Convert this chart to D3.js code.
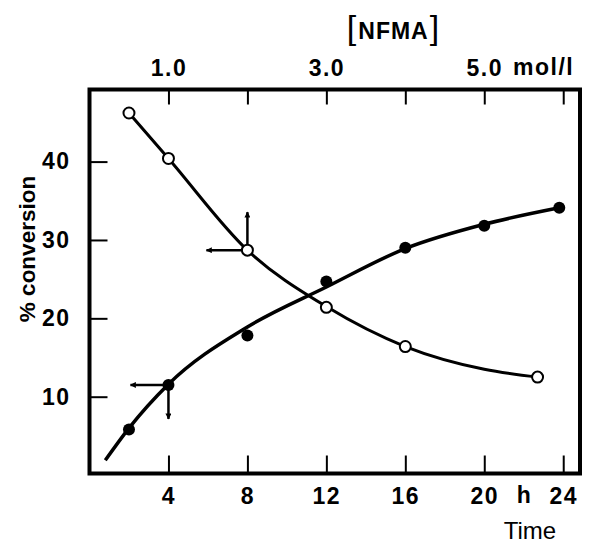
<!DOCTYPE html>
<html>
<head>
<meta charset="utf-8">
<script src="https://cdn.jsdelivr.net/npm/d3@7"></script>
<style>
  body { margin: 0; background: #fff; }
  svg { display: block; }
  .tick text { font-family: "Liberation Sans", Arial, sans-serif; font-weight: bold; font-size: 23px; letter-spacing: 1.5px; fill: #000; }
  .tick line { stroke: #000; stroke-width: 2; }
  .lbl { font-family: "Liberation Sans", Arial, sans-serif; fill: #000; }
</style>
</head>
<body>
<div id="chart"></div>
<script>
// filled circles: % conversion vs time (h)
const filledTime = [2, 4, 8, 12, 16, 20, 23.8];
const filledConv = [5.8, 11.5, 17.8, 24.7, 29.0, 31.8, 34.1];
// open circles: % conversion vs [NFMA] (read on the time scale, 1 mol/l = 4 h)
const openTime = [2, 4, 8, 12, 16, 22.7];
const openConv = [46.2, 40.4, 28.7, 21.4, 16.4, 12.5];

// hand-drawn fitted curves
const filledCurveT = [0.8, 2, 4, 8, 12, 16, 20, 23.8];
const filledCurveV = [1.9, 6.0, 11.6, 18.9, 24.0, 28.9, 32.0, 34.1];
const openCurveT = [2, 4, 8, 12, 16, 20, 22.7];
const openCurveV = [46.2, 40.4, 28.7, 21.5, 16.4, 13.5, 12.5];

const timeTicks = [4, 8, 12, 16, 20, 24];
const concTicks = [1, 2, 3, 4, 5, 6];
const concLabels = [1, 3, 5];
const convTicks = [10, 20, 30, 40];

const W = 591, H = 545;
const svg = d3.select("#chart").append("svg").attr("width", W).attr("height", H);

const x = d3.scaleLinear().domain([0, 24.85]).range([89.5, 580]);
const xc = d3.scaleLinear().domain([0, 24.85 / 4]).range([89.5, 580]);
const y = d3.scaleLinear().domain([0.2, 49.2]).range([473.5, 89.5]);

// axes (ticks point inward)
svg.append("g")
    .attr("transform", `translate(0,${y.range()[0]})`)
    .call(d3.axisBottom(x).tickValues(timeTicks).tickSize(-18).tickPadding(14).tickFormat(d3.format("d")))
    .call(g => g.select(".domain").remove());

svg.append("g")
    .attr("transform", `translate(0,${y.range()[1]})`)
    .call(d3.axisTop(xc).tickValues(concTicks).tickSize(-15).tickPadding(14)
        .tickFormat(d => concLabels.includes(d) ? d3.format(".1f")(d) : ""))
    .call(g => g.select(".domain").remove());

svg.append("g")
    .attr("transform", `translate(${x.range()[0]},0)`)
    .call(d3.axisLeft(y).tickValues(convTicks).tickSize(-18).tickPadding(19).tickFormat(d3.format("d")))
    .call(g => g.select(".domain").remove());

// frame
svg.append("rect")
    .attr("x", x.range()[0]).attr("y", y.range()[1])
    .attr("width", x.range()[1] - x.range()[0])
    .attr("height", y.range()[0] - y.range()[1])
    .attr("fill", "none").attr("stroke", "#000").attr("stroke-width", 4);

// labels
svg.append("text").attr("class", "lbl")
    .attr("x", x(22)).attr("y", 503).attr("text-anchor", "middle")
    .style("font-size", "23px").style("font-weight", "bold").text("h");
svg.append("text").attr("class", "lbl")
    .attr("x", 513).attr("y", 75).style("letter-spacing", "1.5px")
    .style("font-size", "23px").style("font-weight", "bold").text("mol/l");
const nf = svg.append("text").attr("class", "lbl")
    .attr("x", 393).attr("y", 39).attr("text-anchor", "middle");
nf.append("tspan").style("font-size", "34px").text("[");
nf.append("tspan").style("font-size", "23px").style("font-weight", "bold")
    .style("letter-spacing", "1px").attr("dx", 2).text("NFMA");
nf.append("tspan").style("font-size", "34px").attr("dx", 1).text("]");
svg.append("text").attr("class", "lbl")
    .attr("x", 530).attr("y", 539).attr("text-anchor", "middle")
    .style("font-size", "24px").text("Time");
svg.append("text").attr("class", "lbl")
    .attr("transform", "translate(35,249) rotate(-90)").attr("text-anchor", "middle")
    .style("font-size", "22.5px").style("font-weight", "bold").text("% conversion");

// curves
const line = d3.line().x(d => x(d[0])).y(d => y(d[1])).curve(d3.curveMonotoneX);
svg.append("path")
    .datum(filledCurveT.map((t, i) => [t, filledCurveV[i]]))
    .attr("d", line).attr("fill", "none").attr("stroke", "#000").attr("stroke-width", 3.5);
svg.append("path")
    .datum(openCurveT.map((t, i) => [t, openCurveV[i]]))
    .attr("d", line).attr("fill", "none").attr("stroke", "#000").attr("stroke-width", 3);

// arrows
svg.append("defs").append("marker")
    .attr("id", "head").attr("viewBox", "0 0 10 10").attr("refX", 9).attr("refY", 5)
    .attr("markerWidth", 9).attr("markerHeight", 6).attr("markerUnits", "userSpaceOnUse")
    .attr("orient", "auto")
    .append("path").attr("d", "M0,0 L10,5 L0,10 Z").attr("fill", "#000");

function arrow(t, v, dx, dy) {
    svg.append("line")
        .attr("x1", x(t)).attr("y1", y(v))
        .attr("x2", x(t) + dx).attr("y2", y(v) + dy)
        .attr("stroke", "#000").attr("stroke-width", 2.5)
        .attr("marker-end", "url(#head)");
}
arrow(openTime[2], openConv[2], 0, -38);
arrow(openTime[2], openConv[2], -41, 0);
arrow(filledTime[1], filledConv[1], -38, 0);
arrow(filledTime[1], filledConv[1], 0, 34);

// markers
svg.selectAll("circle.open")
    .data(openTime.map((t, i) => [t, openConv[i]]))
    .join("circle").attr("class", "open")
    .attr("cx", d => x(d[0])).attr("cy", d => y(d[1])).attr("r", 5.5)
    .attr("fill", "#fff").attr("stroke", "#000").attr("stroke-width", 2);
svg.selectAll("circle.filled")
    .data(filledTime.map((t, i) => [t, filledConv[i]]))
    .join("circle").attr("class", "filled")
    .attr("cx", d => x(d[0])).attr("cy", d => y(d[1])).attr("r", 6)
    .attr("fill", "#000");
</script>
</body>
</html>
